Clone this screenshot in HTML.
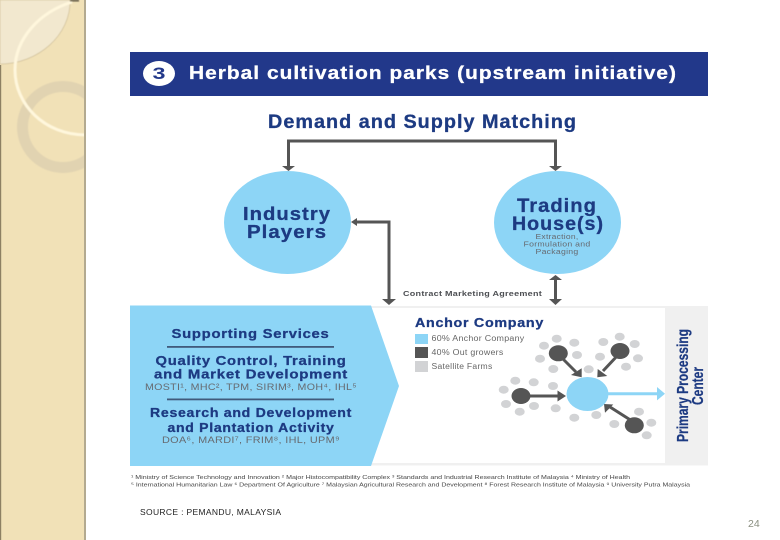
<!DOCTYPE html>
<html><head><meta charset="utf-8"><style>
html,body{margin:0;padding:0;background:#fff;width:780px;height:540px;overflow:hidden}
svg{display:block}
text{font-family:"Liberation Sans",sans-serif}
.h{font-weight:bold;fill:#1f3a82;stroke:#1f3a82;stroke-width:.3px;text-anchor:middle;letter-spacing:.05em}
.s{fill:#666a70;text-anchor:middle;letter-spacing:.03em}
.l{fill:#666;letter-spacing:.03em}
.f{fill:#444;font-size:5.2px}
</style></head><body>
<svg width="780" height="540" viewBox="0 0 780 540" xmlns="http://www.w3.org/2000/svg">
<defs>
<filter id="b" x="-5%" y="-5%" width="110%" height="110%"><feGaussianBlur stdDeviation="0.35"/></filter>
<filter id="b2" x="-5%" y="-5%" width="110%" height="110%"><feGaussianBlur stdDeviation="0.6"/></filter>
<clipPath id="side"><rect x="0" y="0" width="84" height="540"/></clipPath>
</defs>
<rect x="0" y="0" width="84" height="540" fill="#f1e1b7"/>
<rect x="0" y="65" width="1.2" height="475" fill="#8d8063"/>
<rect x="84" y="0" width="2" height="540" fill="#b3aa90"/>
<g clip-path="url(#side)" filter="url(#b2)">
<path d="M0 0H70C71 35 38 64 0 64Z" fill="#f2e8cf" stroke="#c9b891" stroke-width=".6"/>
<circle cx="63" cy="127" r="40.500" fill="none" stroke="#e1d3b1" stroke-width="11"/>
<path d="M72 2C40 12 15 38 15 70C15 105 45 135 86 135" fill="none" stroke="#fff7dd" stroke-width="3"/>
<rect x="70" y="0" width="9" height="1.500" fill="#5b5240"/>
</g>
<g filter="url(#b)">
<rect x="130" y="52" width="578" height="44" fill="#20388a"/>
<ellipse cx="159" cy="73.500" rx="16" ry="12.500" fill="#fff"/>
<text x="159" y="79" font-size="17" font-weight="bold" fill="#20388a" text-anchor="middle" textLength="13" lengthAdjust="spacingAndGlyphs">3</text>
<text x="189" y="79" font-size="18" font-weight="bold" fill="#fff" stroke="#fff" stroke-width=".3" style="letter-spacing:.05em" textLength="488" lengthAdjust="spacingAndGlyphs">Herbal cultivation parks (upstream initiative)</text>
<text x="422.500" y="128" class="h" font-size="19" textLength="309" lengthAdjust="spacingAndGlyphs">Demand and Supply Matching</text>

<ellipse cx="287.500" cy="222.500" rx="63.500" ry="51.500" fill="#8dd5f6"/>
<ellipse cx="557.500" cy="222.500" rx="63.500" ry="51.500" fill="#8dd5f6"/>
<text x="287" y="220" class="h" font-size="18" textLength="88" lengthAdjust="spacingAndGlyphs">Industry</text>
<text x="287" y="238" class="h" font-size="18" textLength="80" lengthAdjust="spacingAndGlyphs">Players</text>
<text x="557" y="212" class="h" font-size="19" textLength="80" lengthAdjust="spacingAndGlyphs">Trading</text>
<text x="558" y="230" class="h" font-size="19" textLength="92" lengthAdjust="spacingAndGlyphs">House(s)</text>
<text x="557" y="239" class="s" font-size="7.500" textLength="43" lengthAdjust="spacingAndGlyphs">Extraction,</text>
<text x="557" y="246.500" class="s" font-size="7.500" textLength="67" lengthAdjust="spacingAndGlyphs">Formulation and</text>
<text x="557" y="254" class="s" font-size="7.500" textLength="43" lengthAdjust="spacingAndGlyphs">Packaging</text>

<g fill="none" stroke="#555" stroke-width="3">
<path d="M288.500 166V141H555.500V166"/>
<path d="M356 222H389V300"/>
<path d="M555.500 278V300"/>
</g>
<g fill="#555">
<path d="M282 166H295L288.500 171Z"/>
<path d="M549 166H562L555.500 171Z"/>
<path d="M351 222L357 218V226Z"/>
<path d="M382 299H396L389 305Z"/>
<path d="M549 280H562L555.500 275Z"/>
<path d="M549 299H562L555.500 305Z"/>
</g>
<text x="403" y="296" font-size="7.600" font-weight="bold" fill="#4d4f53" style="letter-spacing:.03em" textLength="139" lengthAdjust="spacingAndGlyphs">Contract Marketing Agreement</text>

<rect x="130" y="306" width="578" height="159.500" fill="#f0f0f0"/>
<rect x="370" y="308" width="295" height="155" fill="#fff"/>
<polygon points="130,305.500 371,305.500 399,386 371,466 130,466" fill="#8dd5f6"/>

<text x="250.500" y="338" class="h" font-size="13" textLength="158" lengthAdjust="spacingAndGlyphs">Supporting Services</text>
<rect x="167" y="346" width="167" height="1.800" fill="#3f5a7c"/>
<text x="251" y="365" class="h" font-size="13" textLength="191" lengthAdjust="spacingAndGlyphs">Quality Control, Training</text>
<text x="251" y="378.500" class="h" font-size="13" textLength="194" lengthAdjust="spacingAndGlyphs">and Market Development</text>
<text x="251" y="390" class="s" font-size="9.500" textLength="212" lengthAdjust="spacingAndGlyphs">MOSTI¹, MHC², TPM, SIRIM³, MOH⁴, IHL⁵</text>
<rect x="167" y="398.500" width="167" height="1.800" fill="#3f5a7c"/>
<text x="251" y="417" class="h" font-size="13" textLength="202" lengthAdjust="spacingAndGlyphs">Research and Development</text>
<text x="251" y="432" class="h" font-size="13" textLength="167" lengthAdjust="spacingAndGlyphs">and Plantation Activity</text>
<text x="251" y="443" class="s" font-size="9.500" textLength="178" lengthAdjust="spacingAndGlyphs">DOA⁶, MARDI⁷, FRIM⁸, IHL, UPM⁹</text>

<text x="415" y="327" font-size="13" font-weight="bold" fill="#1f3a82" stroke="#1f3a82" stroke-width=".3" style="letter-spacing:.05em" textLength="129" lengthAdjust="spacingAndGlyphs">Anchor Company</text>
<rect x="415" y="334" width="13" height="10" fill="#8dd5f6"/>
<rect x="415" y="347" width="13" height="11" fill="#555"/>
<rect x="415" y="361" width="13" height="11" fill="#d2d3d5"/>
<text x="431.500" y="341" font-size="8" class="l" textLength="93" lengthAdjust="spacingAndGlyphs">60% Anchor Company</text>
<text x="431.500" y="355" font-size="8" class="l" textLength="72" lengthAdjust="spacingAndGlyphs">40% Out growers</text>
<text x="431.500" y="369" font-size="8" class="l" textLength="61" lengthAdjust="spacingAndGlyphs">Satellite Farms</text>

<g fill="#d2d3d5">
<ellipse cx="556.700" cy="338.700" rx="5" ry="4"/><ellipse cx="544" cy="345.700" rx="5" ry="4"/><ellipse cx="574.300" cy="342.700" rx="5" ry="4"/><ellipse cx="540" cy="358.700" rx="5" ry="4"/><ellipse cx="577" cy="355" rx="5" ry="4"/><ellipse cx="553.300" cy="369" rx="5" ry="4"/><ellipse cx="588.700" cy="369.300" rx="5" ry="4"/>
<ellipse cx="603.300" cy="342" rx="5" ry="4"/><ellipse cx="619.700" cy="336.700" rx="5" ry="4"/><ellipse cx="634.700" cy="344" rx="5" ry="4"/><ellipse cx="600" cy="356.700" rx="5" ry="4"/><ellipse cx="638" cy="358.300" rx="5" ry="4"/><ellipse cx="626" cy="366.700" rx="5" ry="4"/>
<ellipse cx="515.300" cy="380.700" rx="5" ry="4"/><ellipse cx="533.700" cy="382.300" rx="5" ry="4"/><ellipse cx="503.700" cy="389.700" rx="5" ry="4"/><ellipse cx="553" cy="386" rx="5" ry="4"/><ellipse cx="506" cy="404" rx="5" ry="4"/><ellipse cx="534" cy="406" rx="5" ry="4"/><ellipse cx="519.700" cy="411.700" rx="5" ry="4"/><ellipse cx="555.700" cy="408.300" rx="5" ry="4"/>
<ellipse cx="574.300" cy="417.700" rx="5" ry="4"/><ellipse cx="596.300" cy="415" rx="5" ry="4"/><ellipse cx="639" cy="411.700" rx="5" ry="4"/><ellipse cx="614.300" cy="424" rx="5" ry="4"/><ellipse cx="651.300" cy="422.700" rx="5" ry="4"/><ellipse cx="646.700" cy="435.300" rx="5" ry="4"/>
</g>
<g stroke="#555" stroke-width="3" fill="none">
<path d="M560 356L576 372"/><path d="M618 355L603 371"/><path d="M525 396H560"/><path d="M632 421L610 407"/>
</g>
<g fill="#555">
<path d="M581.700 377.300V368.300L571 375Z"/>
<path d="M597.300 377.300L597.700 369L607.300 376Z"/>
<path d="M566 396L557.500 390.500V401.500Z"/>
<path d="M604 404L613.300 404.500L605 412.700Z"/>
<ellipse cx="558.300" cy="353.300" rx="9.500" ry="8"/>
<ellipse cx="620" cy="351" rx="9.500" ry="8"/>
<ellipse cx="521" cy="396" rx="9.500" ry="8"/>
<ellipse cx="634.300" cy="425.300" rx="9.500" ry="8"/>
</g>
<path d="M606 393.700H660" stroke="#8dd5f6" stroke-width="3" fill="none"/>
<path d="M665 393.700L657 387V400.400Z" fill="#8dd5f6"/>
<ellipse cx="587.500" cy="394" rx="21" ry="17" fill="#8dd5f6"/>

<text transform="translate(688,385.500) rotate(-90)" font-size="16" font-weight="bold" fill="#1f3a82" stroke="#1f3a82" stroke-width=".25" text-anchor="middle" textLength="113" lengthAdjust="spacingAndGlyphs">Primary Processing</text>
<text transform="translate(703,386) rotate(-90)" font-size="16" font-weight="bold" fill="#1f3a82" stroke="#1f3a82" stroke-width=".25" text-anchor="middle" textLength="38" lengthAdjust="spacingAndGlyphs">Center</text>

<text x="131" y="479" class="f" textLength="499" lengthAdjust="spacingAndGlyphs">¹ Ministry of Science Technology and Innovation  ² Major Histocompatibility Complex  ³ Standards and Industrial Research Institute of Malaysia  ⁴ Ministry of Health</text>
<text x="131" y="486.500" class="f" textLength="559" lengthAdjust="spacingAndGlyphs">⁵ International Humanitarian Law  ⁶ Department Of Agriculture  ⁷ Malaysian Agricultural Research and Development  ⁸ Forest Research Institute of Malaysia  ⁹ University Putra Malaysia</text>
</g>
<text x="140" y="515" font-size="8.500" fill="#222" textLength="141" lengthAdjust="spacing">SOURCE : PEMANDU, MALAYSIA</text>
<text x="748" y="527" font-size="10.500" fill="#8a8f80">24</text>
</svg>
</body></html>
